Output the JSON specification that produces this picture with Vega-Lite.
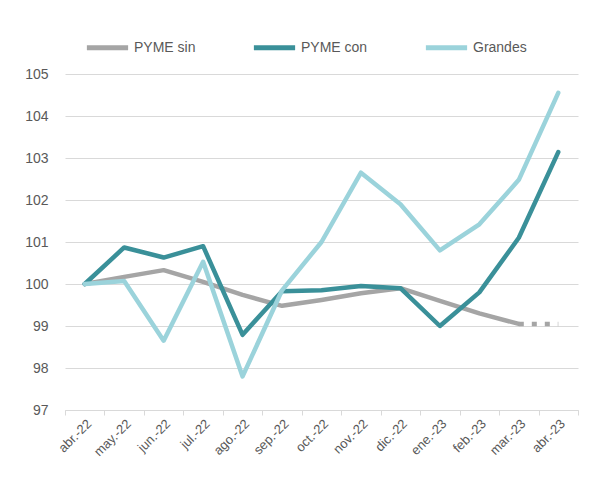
{
  "$schema": "https://vega.github.io/schema/vega-lite/v6.json",
  "width": 513,
  "height": 336,
  "autosize": {"type": "none"},
  "padding": {"left": 65, "top": 74, "right": 18, "bottom": 71},
  "background": "white",
  "config": {"view": {"stroke": null}, "font": "Liberation Sans"},
  "data": {
    "values": [
      {"mes": "abr.-22", "serie": "PYME sin", "valor": 100},
      {"mes": "may.-22", "serie": "PYME sin", "valor": 100.17},
      {"mes": "jun.-22", "serie": "PYME sin", "valor": 100.33},
      {"mes": "jul.-22", "serie": "PYME sin", "valor": 100.05},
      {"mes": "ago.-22", "serie": "PYME sin", "valor": 99.74},
      {"mes": "sep.-22", "serie": "PYME sin", "valor": 99.48},
      {"mes": "oct.-22", "serie": "PYME sin", "valor": 99.62},
      {"mes": "nov.-22", "serie": "PYME sin", "valor": 99.78},
      {"mes": "dic.-22", "serie": "PYME sin", "valor": 99.9},
      {"mes": "ene.-23", "serie": "PYME sin", "valor": 99.6},
      {"mes": "feb.-23", "serie": "PYME sin", "valor": 99.3},
      {"mes": "mar.-23", "serie": "PYME sin", "valor": 99.05},
      {"mes": "mar.-23", "serie": "PYME sin proy", "valor": 99.05},
      {"mes": "abr.-23", "serie": "PYME sin proy", "valor": 99.05},
      {"mes": "abr.-22", "serie": "PYME con", "valor": 100},
      {"mes": "may.-22", "serie": "PYME con", "valor": 100.87},
      {"mes": "jun.-22", "serie": "PYME con", "valor": 100.63},
      {"mes": "jul.-22", "serie": "PYME con", "valor": 100.9},
      {"mes": "ago.-22", "serie": "PYME con", "valor": 98.79},
      {"mes": "sep.-22", "serie": "PYME con", "valor": 99.83},
      {"mes": "oct.-22", "serie": "PYME con", "valor": 99.85},
      {"mes": "nov.-22", "serie": "PYME con", "valor": 99.95},
      {"mes": "dic.-22", "serie": "PYME con", "valor": 99.9},
      {"mes": "ene.-23", "serie": "PYME con", "valor": 99.0},
      {"mes": "feb.-23", "serie": "PYME con", "valor": 99.8},
      {"mes": "mar.-23", "serie": "PYME con", "valor": 101.1},
      {"mes": "abr.-23", "serie": "PYME con", "valor": 103.14},
      {"mes": "abr.-22", "serie": "Grandes", "valor": 100},
      {"mes": "may.-22", "serie": "Grandes", "valor": 100.07},
      {"mes": "jun.-22", "serie": "Grandes", "valor": 98.65},
      {"mes": "jul.-22", "serie": "Grandes", "valor": 100.53},
      {"mes": "ago.-22", "serie": "Grandes", "valor": 97.8},
      {"mes": "sep.-22", "serie": "Grandes", "valor": 99.85},
      {"mes": "oct.-22", "serie": "Grandes", "valor": 101.0},
      {"mes": "nov.-22", "serie": "Grandes", "valor": 102.65},
      {"mes": "dic.-22", "serie": "Grandes", "valor": 101.9},
      {"mes": "ene.-23", "serie": "Grandes", "valor": 100.8},
      {"mes": "feb.-23", "serie": "Grandes", "valor": 101.42},
      {"mes": "mar.-23", "serie": "Grandes", "valor": 102.48},
      {"mes": "abr.-23", "serie": "Grandes", "valor": 104.55}
    ]
  },
  "encoding": {
    "x": {
      "field": "mes",
      "type": "ordinal",
      "sort": ["abr.-22", "may.-22", "jun.-22", "jul.-22", "ago.-22", "sep.-22", "oct.-22", "nov.-22", "dic.-22", "ene.-23", "feb.-23", "mar.-23", "abr.-23"],
      "scale": {"type": "band", "paddingInner": 0, "paddingOuter": 0},
      "axis": {
        "title": null,
        "labelAngle": -45,
        "tickBand": "extent",
        "grid": false,
        "domainColor": "#D9D9D9",
        "tickColor": "#D9D9D9",
        "tickSize": 5,
        "labelColor": "#595959",
        "labelFontSize": 13,
        "labelPadding": 2
      }
    },
    "y": {
      "field": "valor",
      "type": "quantitative",
      "scale": {"domain": [97, 105], "nice": false, "zero": false},
      "axis": {
        "title": null,
        "values": [97, 98, 99, 100, 101, 102, 103, 104, 105],
        "domain": false,
        "ticks": false,
        "gridColor": "#D9D9D9",
        "labelColor": "#595959",
        "labelFontSize": 14,
        "labelPadding": 17
      }
    }
  },
  "layer": [
    {
      "transform": [{"filter": "datum.serie == 'PYME sin'"}],
      "mark": {"type": "line", "strokeWidth": 4.5, "strokeCap": "round", "strokeJoin": "round"},
      "encoding": {
        "color": {
          "field": "serie",
          "type": "nominal",
          "scale": {"domain": ["PYME sin", "PYME con", "Grandes"], "range": ["#A5A5A5", "#3A9099", "#9BD3DB"]},
          "legend": {
            "orient": "none",
            "legendX": 19,
            "legendY": -50,
            "direction": "horizontal",
            "title": null,
            "padding": 0,
            "columnPadding": 47,
            "symbolType": "stroke",
            "symbolSize": 1700,
            "symbolStrokeWidth": 5,
            "labelFontSize": 14,
            "labelColor": "#595959",
            "labelOffset": 3
          }
        }
      }
    },
    {
      "transform": [{"filter": "datum.serie == 'PYME sin proy'"}],
      "mark": {"type": "line", "strokeWidth": 4.5, "strokeCap": "butt", "strokeDash": [5, 8], "color": "#A5A5A5"},
      "encoding": {}
    },
    {
      "transform": [{"filter": "datum.serie == 'PYME con'"}],
      "mark": {"type": "line", "strokeWidth": 4.5, "strokeCap": "round", "strokeJoin": "round"},
      "encoding": {"color": {"field": "serie", "type": "nominal"}}
    },
    {
      "transform": [{"filter": "datum.serie == 'Grandes'"}],
      "mark": {"type": "line", "strokeWidth": 4.5, "strokeCap": "round", "strokeJoin": "round"},
      "encoding": {"color": {"field": "serie", "type": "nominal"}}
    }
  ]
}
